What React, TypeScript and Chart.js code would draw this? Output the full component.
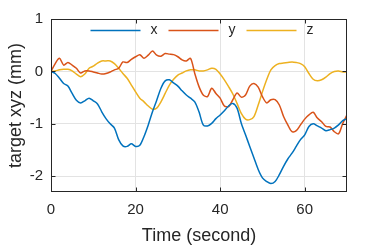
import React, { useEffect, useRef } from "react";
import { Chart, registerables } from "chart.js";

Chart.register(...registerables);

const TIME = [
  0, 1, 2, 3, 4, 5, 6, 7, 8, 9, 10, 11, 12, 13, 14, 15, 16, 17, 18, 19, 20,
  21, 22, 23, 24, 25, 26, 27, 28, 29, 30, 31, 32, 33, 34, 35, 36, 37, 38, 39, 40,
  41, 42, 43, 44, 45, 46, 47, 48, 49, 50, 51, 52, 53, 54, 55, 56, 57, 58, 59, 60,
  61, 62, 63, 64, 65, 66, 67, 68, 69, 70,
];

const X_VALUES = [
  0, -0.04, -0.13, -0.23, -0.28, -0.42, -0.55, -0.6, -0.56, -0.51, -0.56,
  -0.62, -0.77, -0.9, -1.0, -1.08, -1.3, -1.42, -1.43, -1.38, -1.43,
  -1.41, -1.24, -1.02, -0.77, -0.55, -0.32, -0.18, -0.16, -0.22, -0.28,
  -0.37, -0.45, -0.51, -0.58, -0.77, -1.02, -1.04, -0.99, -0.9, -0.83,
  -0.75, -0.66, -0.61, -0.7, -0.99, -1.21, -1.43, -1.65, -1.87, -2.03,
  -2.1, -2.14, -2.1, -1.97, -1.81, -1.67, -1.56, -1.43, -1.3, -1.21,
  -1.05, -1.0, -1.04, -1.08, -1.13, -1.11, -1.08, -1.02, -0.94, -0.9,
];

const Y_VALUES = [
  0, 0.15, 0.25, 0.12, 0.17, 0.12, 0.06, -0.03, 0.01, 0.01, -0.01,
  -0.03, -0.05, -0.04, -0.01, 0.03, 0.06, 0.18, 0.17, 0.23, 0.28,
  0.32, 0.25, 0.31, 0.39, 0.31, 0.29, 0.34, 0.33, 0.32, 0.28,
  0.22, 0.2, 0.25, -0.04, -0.29, -0.45, -0.48, -0.32, -0.42, -0.51,
  -0.66, -0.67, -0.54, -0.41, -0.49, -0.45, -0.28, -0.23, -0.3, -0.48,
  -0.6, -0.54, -0.54, -0.64, -0.86, -1.02, -1.15, -1.13, -1.02, -0.91,
  -0.83, -0.78, -0.89, -0.96, -1.05, -1.06, -1.15, -1.19, -0.99, -0.83,
];

const Z_VALUES = [
  0, 0.01, 0.03, 0.04, 0.04, 0.01, -0.05, -0.1, -0.05, 0.06, 0.1,
  0.16, 0.2, 0.2, 0.2, 0.15, 0.06, -0.04, -0.13, -0.26, -0.39,
  -0.51, -0.58, -0.66, -0.72, -0.7, -0.58, -0.42, -0.26, -0.15, -0.07,
  -0.03, 0.01, 0.03, 0.03, 0.01, 0.01, 0.03, 0.06, 0.04, -0.05,
  -0.16, -0.29, -0.43, -0.61, -0.8, -0.91, -0.92, -0.86, -0.64, -0.39,
  -0.16, 0.03, 0.11, 0.15, 0.16, 0.17, 0.18, 0.17, 0.15, 0.09,
  -0.04, -0.15, -0.18, -0.16, -0.11, -0.04, 0.0, 0.01, -0.01, -0.01,
];

const SERIES_NAMES = ["x", "y", "z"];
const SERIES_COLORS = ["#0072BD", "#D95319", "#EDB120"];
const X_TICKS = [0, 20, 40, 60];
const Y_TICKS = [-2, -1, 0, 1];
const X_TITLE = "Time (second)";
const Y_TITLE = "target xyz (mm)";

const FONT = "'Liberation Sans', Arial, Helvetica, sans-serif";
const TEXT_COLOR = "#262626";

const framePlugin = {
  id: "matlabFrame",
  afterDatasetsDraw(chart: any) {
    const { ctx, chartArea: a, scales } = chart;
    const L = Math.round(a.left) + 0.5;
    const R = Math.round(a.right) - 0.5;
    const T = Math.round(a.top) + 0.5;
    const B = Math.round(a.bottom) - 0.5;
    ctx.save();
    ctx.strokeStyle = TEXT_COLOR;
    ctx.lineWidth = 1;
    ctx.strokeRect(L, T, R - L, B - T);
    const tl = 4;
    ctx.beginPath();
    for (const t of scales.x.ticks) {
      const px = Math.round(scales.x.getPixelForValue(t.value)) + 0.5;
      ctx.moveTo(px, B);
      ctx.lineTo(px, B - tl);
      ctx.moveTo(px, T);
      ctx.lineTo(px, T + tl);
    }
    for (const t of scales.y.ticks) {
      const py = Math.round(scales.y.getPixelForValue(t.value)) + 0.5;
      ctx.moveTo(L, py);
      ctx.lineTo(L + tl, py);
      ctx.moveTo(R, py);
      ctx.lineTo(R - tl, py);
    }
    ctx.stroke();

    // legend (horizontal, inside the axes, no box)
    const lineLen = 50;
    const gap = 10;
    const spacing = 11;
    ctx.font = `14px ${FONT}`;
    const items = chart.data.datasets.map((d: any) => ({
      label: d.label,
      color: d.borderColor,
      w: ctx.measureText(d.label).width,
    }));
    const total =
      items.reduce((s: number, it: any) => s + lineLen + gap + it.w, 0) +
      spacing * (items.length - 1);
    let x = (a.left + a.right) / 2 - total / 2 + 3;
    const y = a.top + 11.5;
    ctx.textBaseline = "middle";
    ctx.textAlign = "left";
    for (const it of items) {
      ctx.strokeStyle = it.color;
      ctx.lineWidth = 1.5;
      ctx.beginPath();
      ctx.moveTo(x, y);
      ctx.lineTo(x + lineLen, y);
      ctx.stroke();
      ctx.fillStyle = TEXT_COLOR;
      ctx.fillText(it.label, x + lineLen + gap, y);
      x += lineLen + gap + it.w + spacing;
    }
    ctx.restore();
  },
};

export default function App() {
  const canvasRef = useRef<HTMLCanvasElement | null>(null);

  useEffect(() => {
    const canvas = canvasRef.current;
    if (!canvas) return;
    const seriesValues = [X_VALUES, Y_VALUES, Z_VALUES];
    const chart = new Chart(canvas, {
      type: "line",
      data: {
        datasets: SERIES_NAMES.map((name, k) => ({
          label: name,
          data: TIME.map((t, i) => ({ x: t, y: seriesValues[k][i] })),
          borderColor: SERIES_COLORS[k],
          backgroundColor: SERIES_COLORS[k],
          borderWidth: 1.5,
          pointRadius: 0,
          tension: 0.3,
          fill: false,
        })),
      },
      options: {
        animation: false,
        responsive: false,
        devicePixelRatio: 1,
        layout: { padding: { top: 19, right: 35, left: 0, bottom: 0 } },
        plugins: {
          legend: { display: false },
          tooltip: { enabled: false },
        },
        scales: {
          x: {
            type: "linear",
            min: 0,
            max: 70,
            afterBuildTicks: (s: any) => {
              s.ticks = X_TICKS.map((v) => ({ value: v }));
            },
            afterFit: (s: any) => {
              s.height = 54;
            },
            grid: { color: "#e3e3e3", lineWidth: 1, drawTicks: false },
            border: { display: false },
            ticks: {
              padding: 9,
              color: TEXT_COLOR,
              font: { family: FONT, size: 15 },
              maxRotation: 0,
            },
            title: {
              display: true,
              text: X_TITLE,
              color: TEXT_COLOR,
              font: { family: FONT, size: 18, lineHeight: 1 },
              padding: { top: 0, bottom: 1 },
            },
          },
          y: {
            type: "linear",
            min: -2.3,
            max: 1,
            afterBuildTicks: (s: any) => {
              s.ticks = Y_TICKS.map((v) => ({ value: v }));
            },
            afterFit: (s: any) => {
              s.width = 51;
            },
            grid: { color: "#e3e3e3", lineWidth: 1, drawTicks: false },
            border: { display: false },
            ticks: {
              padding: 8,
              color: TEXT_COLOR,
              font: { family: FONT, size: 15 },
            },
            title: {
              display: true,
              text: Y_TITLE,
              color: TEXT_COLOR,
              font: { family: FONT, size: 18, lineHeight: 1 },
              padding: { top: 7, bottom: 0 },
            },
          },
        },
      },
      plugins: [framePlugin],
    } as any);
    return () => chart.destroy();
  }, []);

  return (
    <div style={{ position: "absolute", left: 0, top: 0, width: 382, height: 246, background: "#fff" }}>
      <canvas ref={canvasRef} width={382} height={246} style={{ display: "block" }} />
    </div>
  );
}
